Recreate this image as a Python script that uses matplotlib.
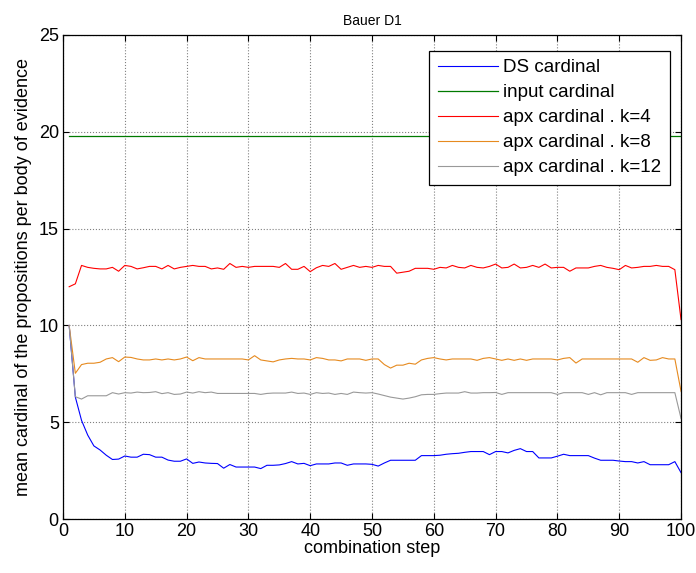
import matplotlib
matplotlib.use('Agg')
import matplotlib.pyplot as plt
import numpy as np

plt.rcParams['font.family'] = ['Liberation Sans', 'DejaVu Sans']

# combination steps 1..100
steps = list(range(1, 101))

input_card = [19.8] * 100

ds_card = [10.0, 6.3, 5.1, 4.34, 3.78, 3.57, 3.3, 3.08, 3.1, 3.26,
           3.2, 3.2, 3.35, 3.33, 3.2, 3.2, 3.05, 2.99, 2.99, 3.11,
           2.88, 2.95, 2.9, 2.88, 2.87, 2.63, 2.82, 2.69, 2.69, 2.69,
           2.69, 2.61, 2.78, 2.78, 2.8, 2.87, 2.97, 2.85, 2.88, 2.76,
           2.85, 2.85, 2.85, 2.9, 2.9, 2.78, 2.85, 2.85, 2.85, 2.83,
           2.74, 2.9, 3.04, 3.04, 3.04, 3.04, 3.04, 3.28, 3.28, 3.28,
           3.3, 3.35, 3.38, 3.4, 3.45, 3.49, 3.49, 3.49, 3.33, 3.49,
           3.49, 3.42, 3.55, 3.64, 3.49, 3.49, 3.16, 3.16, 3.16, 3.25,
           3.35, 3.28, 3.28, 3.28, 3.28, 3.15, 3.04, 3.04, 3.04, 3.0,
           2.97, 2.97, 2.9, 2.97, 2.81, 2.81, 2.81, 2.81, 2.97, 2.4]

apx_k4 = [12.0, 12.15, 13.1, 13.0, 12.95, 12.92, 12.92, 13.0, 12.8, 13.1,
          13.05, 12.92, 12.98, 13.05, 13.05, 12.92, 13.1, 12.92, 13.0, 13.05,
          13.1, 13.05, 13.05, 12.92, 12.97, 12.9, 13.2, 13.0, 13.05, 13.0,
          13.05, 13.05, 13.05, 13.05, 13.0, 13.2, 12.9, 12.9, 13.05, 12.78,
          12.98, 13.1, 13.05, 13.2, 12.9, 13.0, 13.1, 13.0, 13.05, 13.0,
          13.1, 13.05, 13.05, 12.7, 12.75, 12.8, 12.95, 12.95, 12.95, 12.9,
          13.0, 12.97, 13.1, 13.0, 12.97, 13.1, 13.0, 12.97, 13.05, 13.17,
          12.97, 13.0, 13.17, 12.97, 13.0, 13.1, 13.0, 13.17, 12.97, 13.0,
          13.0, 12.8, 12.97, 12.97, 12.97, 13.05, 13.1, 13.0, 12.95, 12.88,
          13.1, 12.97, 13.0, 13.05, 13.05, 13.1, 13.05, 13.05, 12.88, 10.3]

apx_k8 = [10.0, 7.53, 7.98, 8.05, 8.05, 8.1, 8.27, 8.34, 8.13, 8.37,
          8.35, 8.27, 8.22, 8.22, 8.27, 8.22, 8.27, 8.22, 8.27, 8.37,
          8.18, 8.34, 8.27, 8.27, 8.27, 8.27, 8.27, 8.27, 8.27, 8.22,
          8.44, 8.22, 8.17, 8.12, 8.22, 8.27, 8.3, 8.27, 8.27, 8.22,
          8.34, 8.3, 8.22, 8.22, 8.17, 8.27, 8.27, 8.27, 8.2, 8.27,
          8.27, 7.98, 7.8, 7.95, 7.95, 8.05, 8.0, 8.22, 8.3, 8.34,
          8.27, 8.22, 8.27, 8.27, 8.27, 8.27, 8.2, 8.3, 8.34, 8.27,
          8.2, 8.27, 8.2, 8.27, 8.2, 8.27, 8.27, 8.27, 8.27, 8.22,
          8.3, 8.34, 8.06, 8.27, 8.27, 8.27, 8.27, 8.27, 8.27, 8.27,
          8.27, 8.27, 8.1, 8.34, 8.2, 8.22, 8.34, 8.27, 8.27, 6.6]

apx_k12 = [10.0, 6.32, 6.2, 6.37, 6.37, 6.37, 6.37, 6.53, 6.46, 6.53,
           6.51, 6.56, 6.53, 6.54, 6.58, 6.48, 6.53, 6.44, 6.46, 6.56,
           6.51, 6.58, 6.53, 6.56, 6.49, 6.49, 6.49, 6.49, 6.49, 6.49,
           6.49, 6.44, 6.49, 6.51, 6.51, 6.51, 6.56, 6.49, 6.51, 6.44,
           6.53, 6.49, 6.51, 6.44, 6.49, 6.44, 6.56, 6.53, 6.51, 6.53,
           6.46, 6.38, 6.3, 6.25, 6.2, 6.25, 6.32, 6.42, 6.44, 6.44,
           6.48, 6.51, 6.51, 6.51, 6.58, 6.51, 6.51, 6.53, 6.53, 6.54,
           6.44, 6.53, 6.53, 6.53, 6.53, 6.53, 6.53, 6.53, 6.53, 6.44,
           6.53, 6.53, 6.53, 6.53, 6.44, 6.53, 6.42, 6.53, 6.53, 6.53,
           6.53, 6.44, 6.53, 6.53, 6.53, 6.53, 6.53, 6.53, 6.53, 5.2]

fig = plt.figure(figsize=(6.96, 5.73), dpi=100)
ax = fig.add_axes([0.0905, 0.094, 0.888, 0.845])

ax.plot(steps, ds_card, color='#0000ff', lw=0.8, label='DS cardinal')
ax.plot(steps, input_card, color='#007a00', lw=0.9, label='input cardinal')
ax.plot(steps, apx_k4, color='#ff0000', lw=0.8, label='apx cardinal . k=4')
ax.plot(steps, apx_k8, color='#e68a1f', lw=0.8, label='apx cardinal . k=8')
ax.plot(steps, apx_k12, color='#999999', lw=0.8, label='apx cardinal . k=12')

ax.set_xlim(0, 100)
ax.set_ylim(0, 25)
ax.set_xticks(np.arange(0, 101, 10))
ax.set_yticks(np.arange(0, 26, 5))
ax.tick_params(direction='in', labelsize=13, length=4, top=True, right=True, pad=3)
ax.grid(True, color='#808080', linestyle=':', linewidth=0.8)
for s in ax.spines.values():
    s.set_linewidth(0.9)

ax.set_title('Bauer D1', fontsize=10, pad=7)
ax.set_xlabel('combination step', fontsize=13, labelpad=0)
ax.set_ylabel('mean cardinal of the propositions per body of evidence', fontsize=13, labelpad=5)

leg = ax.legend(loc='upper right', fontsize=13.5, fancybox=False, framealpha=1,
                edgecolor='black', handlelength=3.2, handletextpad=0.3,
                labelspacing=0.42, borderpad=0.45, borderaxespad=0,
                bbox_to_anchor=(0.982, 0.967))
leg.get_frame().set_linewidth(0.9)

fig.savefig('out.png', dpi=100)
